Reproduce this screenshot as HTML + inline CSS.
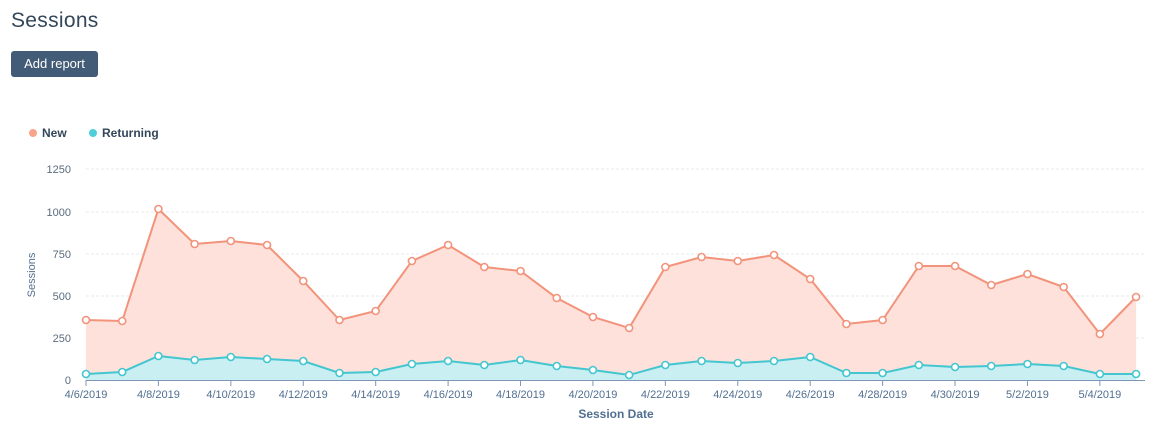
<!DOCTYPE html>
<html><head><meta charset="utf-8"><style>
body{margin:0;background:#fff;font-family:"Liberation Sans",sans-serif;width:1169px;height:438px;overflow:hidden;position:relative}
h1{position:absolute;left:11px;top:9px;margin:0;font-weight:normal;font-size:21px;color:#33475b;letter-spacing:0.3px}
.btn{position:absolute;left:11px;top:51px;width:87px;height:26px;background:#425b76;border-radius:3px;color:#fff;font-size:13px;line-height:26px;text-align:center}
svg{position:absolute;left:0;top:0}
</style></head><body>
<h1>Sessions</h1>
<div class="btn">Add report</div>
<svg id="s" width="1169" height="438" font-family="Liberation Sans, sans-serif"></svg>
<script>
const N=[320,321,209,244,241,245,281,320,311,261,245,267,271,298,317,328,267,257,261,255,279,324,320,266,266,285,274,287,334,297];
const R=[374,372,356,360,357,359,361,373,372,364,361,365,360,366,370,375,365,361,363,361,357,373,373,365,367,366,364,366,374,374];
const X=i=>86+36.21*i;
let s='';
s+='<circle cx="33" cy="133" r="4" fill="#f8a48b"/><text x="42" y="137" font-size="12" font-weight="bold" fill="#33475b">New</text>';
s+='<circle cx="93" cy="133" r="4" fill="#4fcfd9"/><text x="102" y="137" font-size="12" font-weight="bold" fill="#33475b">Returning</text>';
[[1250,169],[1000,212],[750,254],[500,296],[250,338],[0,380]].forEach(([v,y])=>{
 if(v)s+=`<line x1="86" x2="1145" y1="${y}" y2="${y}" stroke="#e5e8eb" stroke-dasharray="3,2"/>`;
 s+=`<text x="71" y="${y+4}" font-size="11" fill="#5a6b7c" text-anchor="end">${v}</text>`;});
const pn=N.map((y,i)=>X(i)+','+y).join(' '), pr=R.map((y,i)=>X(i)+','+y).join(' ');
s+=`<polygon points="86,380 ${pn} ${X(29)},380" fill="#fde1da"/>`;
s+=`<polygon points="86,380 ${pr} ${X(29)},380" fill="#c9eff2"/>`;
s+=`<polyline points="${pn}" fill="none" stroke="#f2937b" stroke-width="2"/>`;
s+=`<polyline points="${pr}" fill="none" stroke="#43c6cf" stroke-width="2"/>`;
N.forEach((y,i)=>s+=`<circle cx="${X(i)}" cy="${y}" r="3.5" fill="#fff" stroke="#f2937b" stroke-width="1.6"/>`);
R.forEach((y,i)=>s+=`<circle cx="${X(i)}" cy="${y}" r="3.5" fill="#fff" stroke="#43c6cf" stroke-width="1.6"/>`);
s+='<line x1="86" x2="1145" y1="380.5" y2="380.5" stroke="#7c98b6"/>';
['4/6/2019','4/8/2019','4/10/2019','4/12/2019','4/14/2019','4/16/2019','4/18/2019','4/20/2019','4/22/2019','4/24/2019','4/26/2019','4/28/2019','4/30/2019','5/2/2019','5/4/2019'].forEach((t,k)=>{
 const x=X(2*k);s+=`<line x1="${x}" x2="${x}" y1="380" y2="386" stroke="#7c98b6"/><text x="${x}" y="398" font-size="11" fill="#516f90" text-anchor="middle">${t}</text>`;});
s+='<text x="616" y="418" font-size="12" font-weight="bold" fill="#516f90" text-anchor="middle">Session Date</text>';
s+='<text transform="translate(35,275) rotate(-90)" font-size="11" fill="#516f90" text-anchor="middle">Sessions</text>';
document.getElementById('s').innerHTML=s;
</script>
</body></html>
